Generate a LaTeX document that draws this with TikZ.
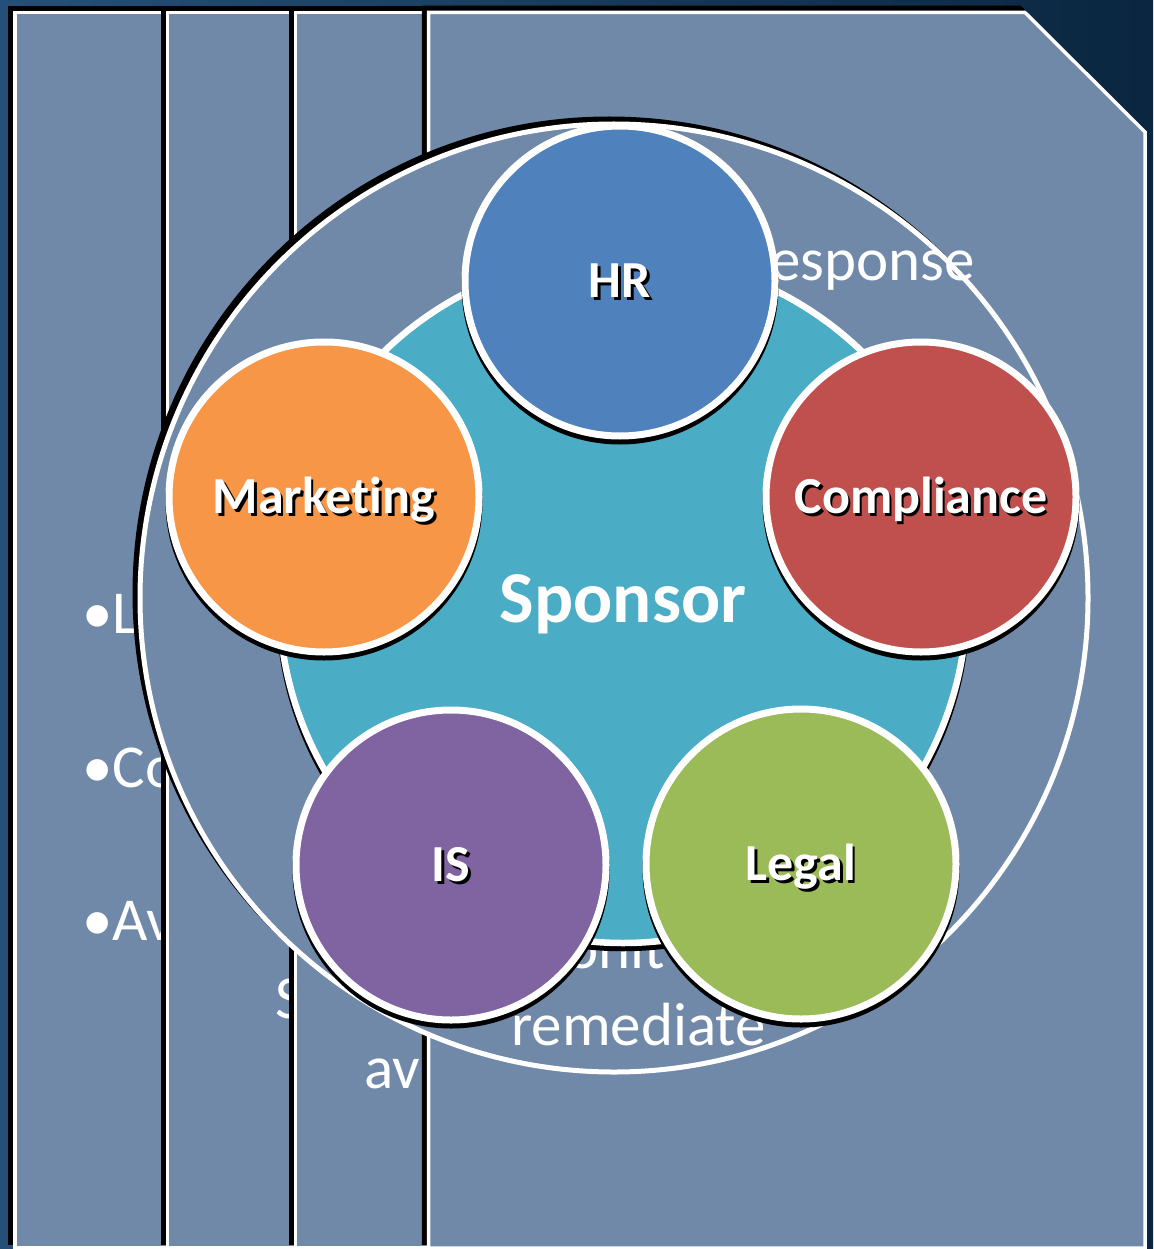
\documentclass[tikz,border=0pt]{standalone}
\usepackage{fontspec}
\setmainfont{Carlito}[Ligatures=NoCommon]
\definecolor{slate}{RGB}{112,137,168}
\definecolor{bgleft}{RGB}{36,80,120}
\definecolor{bgright}{RGB}{10,38,64}
\definecolor{sponsorc}{RGB}{75,172,198}
\definecolor{hrc}{RGB}{79,129,189}
\definecolor{compc}{RGB}{192,80,77}
\definecolor{markc}{RGB}{247,150,70}
\definecolor{isc}{RGB}{128,100,162}
\definecolor{legalc}{RGB}{155,187,89}
\newcommand\shtext[1]{\rlap{\kern2.5pt\raisebox{-2.5pt}{\color{black}#1}}#1}
\begin{document}
\begin{tikzpicture}[x=1pt,y=-1pt,
  panel/.style={fill=slate, draw=white, line width=3.5pt,
    preaction={fill=black, draw=black, line width=3.5pt, transform canvas={xshift=-5pt,yshift=5pt}}},
  bgtext/.style={text=white, font=\fontsize{61}{72}\selectfont, inner sep=0pt, anchor=base west},
  sat/.style={circle, draw=white, line width=7pt, minimum size=310pt, inner sep=0pt,
    text=white, font=\bfseries\fontsize{52}{60}\selectfont, text height=33pt, text depth=0pt,
    preaction={fill=black, draw=black, line width=7pt, transform canvas={yshift=-5pt}}},
]
\useasboundingbox (0,0) rectangle (1153,1249);
% background
\fill[left color=bgleft, right color=bgright] (0,0) rectangle (1153,1249);

% panel 1
\path[panel] (15,12.5) rectangle (1000,1248);
\node[bgtext] (t1) at (82,633) {•L};
\node[bgtext] (t2) at (82,787) {•Co};
\node[bgtext] (t3) at (82,940) {•Av};
% panel 2
\path[panel] (167.5,12.5) rectangle (1000,1248);
\node[bgtext] (t4) at (275,1018) {S};
% panel 3
\path[panel] (295.5,12.5) rectangle (1000,1248);
\node[bgtext] (t5) at (364,1088) {av};
% panel 4
\path[panel] (428.5,12.5) -- (1025,12.5) -- (1145,132) -- (1145,1248) -- (428.5,1248) -- cycle;

% outer circle
\path[fill=slate, draw=white, line width=5pt,
  preaction={fill=black, draw=black, line width=5pt, transform canvas={xshift=-5pt,yshift=5pt}}]
  (614,598) circle[radius=474pt];

% panel 4 texts
\node[bgtext] (t6) at (770,280) {esponse};
\node[bgtext] (t7) at (566,968) {onit};
\node[bgtext] (t8) at (511,1045) {remediate};

% sponsor
\node[circle, fill=sponsorc, draw=white, line width=6.5pt, minimum size=688pt, inner sep=0pt,
  preaction={fill=black, draw=black, line width=6.5pt, transform canvas={yshift=-5pt}},
  text=white, font=\bfseries\fontsize{73}{80}\selectfont, text height=46pt, text depth=0pt]
  (sponsor) at (623,599) {Sponsor};

% satellites
\node[sat, fill=hrc] (hr) at (620,281) {\shtext{HR}};
\node[sat, fill=compc] (comp) at (921,497) {\shtext{Compliance}};
\node[sat, fill=markc] (mark) at (324,497) {\shtext{Marketing}};
\node[sat, fill=isc] (is) at (451,865) {\shtext{IS}};
\node[sat, fill=legalc] (legal) at (801,864) {\shtext{Legal}};
\end{tikzpicture}
\end{document}
